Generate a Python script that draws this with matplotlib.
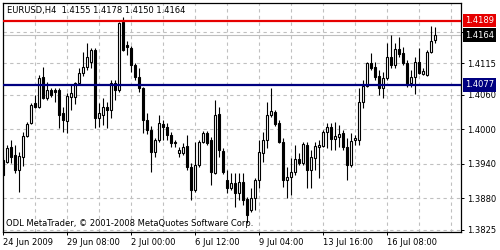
import matplotlib
matplotlib.use("Agg")
import matplotlib.pyplot as plt
from matplotlib.transforms import blended_transform_factory

# ---- data (EURUSD H4) ----
opens = [1.3946, 1.3943, 1.3969, 1.3955, 1.3929, 1.3952, 1.3988, 1.4011, 1.4046, 1.4039,
         1.4091, 1.4054, 1.4068, 1.4068, 1.4068, 1.4028, 1.4014, 1.4056, 1.4056, 1.4080,
         1.4098, 1.4108, 1.4117, 1.4138, 1.4020, 1.4025, 1.4039, 1.4033, 1.4080, 1.4068,
         1.4187, 1.4147, 1.4141, 1.4112, 1.4091, 1.4072, 1.4016, 1.3999, 1.3960, 1.3981,
         1.4009, 1.4004, 1.3990, 1.3978, 1.3959, 1.3959, 1.3971, 1.3934, 1.3894, 1.3938,
         1.3978, 1.3993, 1.3981, 1.3924, 1.4027, 1.3962, 1.3912, 1.3898, 1.3906, 1.3889,
         1.3908, 1.3878, 1.3859, 1.3880, 1.3912, 1.3959, 1.3981, 1.4025, 1.4030, 1.4011,
         1.3978, 1.3912, 1.3917, 1.3925, 1.3948, 1.3941, 1.3973, 1.3929, 1.3950, 1.3969,
         1.3971, 1.3995, 1.4004, 1.3983, 1.3986, 1.3993, 1.3969, 1.3938, 1.3981, 1.3981,
         1.4047, 1.4075, 1.4115, 1.4108, 1.4093, 1.4072, 1.4089, 1.4126, 1.4112, 1.4140,
         1.4133, 1.4115, 1.4080, 1.4091, 1.4117, 1.4096, 1.4094, 1.4134, 1.4155]
highs = [1.3951, 1.3972, 1.3981, 1.3972, 1.3960, 1.3995, 1.4013, 1.4046, 1.4060, 1.4094,
         1.4108, 1.4082, 1.4072, 1.4072, 1.4072, 1.4039, 1.4063, 1.4077, 1.4082, 1.4107,
         1.4134, 1.4150, 1.4141, 1.4141, 1.4046, 1.4054, 1.4047, 1.4086, 1.4086, 1.4187,
         1.4195, 1.4154, 1.4145, 1.4115, 1.4107, 1.4074, 1.4028, 1.4006, 1.3985, 1.4025,
         1.4016, 1.4011, 1.3995, 1.3981, 1.3969, 1.3976, 1.3990, 1.3941, 1.3978, 1.3981,
         1.3997, 1.3997, 1.3986, 1.4051, 1.4039, 1.3967, 1.3929, 1.3924, 1.3924, 1.3924,
         1.3924, 1.3882, 1.3898, 1.3915, 1.3981, 1.3995, 1.4047, 1.4072, 1.4033, 1.4016,
         1.3985, 1.3934, 1.3950, 1.3973, 1.3959, 1.3978, 1.3978, 1.3964, 1.3978, 1.3981,
         1.3999, 1.4011, 1.4011, 1.4013, 1.4007, 1.3999, 1.3985, 1.3993, 1.3990, 1.4072,
         1.4086, 1.4117, 1.4133, 1.4117, 1.4103, 1.4100, 1.4150, 1.4164, 1.4150, 1.4161,
         1.4143, 1.4121, 1.4103, 1.4126, 1.4141, 1.4107, 1.4138, 1.4180, 1.4178]
lows = [1.3918, 1.3941, 1.3941, 1.3924, 1.3890, 1.3936, 1.3986, 1.4009, 1.4037, 1.4037,
        1.4053, 1.4051, 1.4056, 1.4047, 1.4002, 1.3995, 1.3993, 1.4033, 1.4044, 1.4077,
        1.4093, 1.4103, 1.4107, 1.4002, 1.4004, 1.4007, 1.4002, 1.4020, 1.4051, 1.4065,
        1.4136, 1.4129, 1.4100, 1.4086, 1.4065, 1.3993, 1.3992, 1.3925, 1.3952, 1.3978,
        1.3981, 1.3981, 1.3969, 1.3969, 1.3952, 1.3955, 1.3929, 1.3877, 1.3891, 1.3934,
        1.3976, 1.3972, 1.3903, 1.3922, 1.3952, 1.3922, 1.3889, 1.3894, 1.3864, 1.3877,
        1.3868, 1.3837, 1.3856, 1.3859, 1.3898, 1.3943, 1.3967, 1.4021, 1.4006, 1.3976,
        1.3899, 1.3880, 1.3885, 1.3920, 1.3938, 1.3938, 1.3898, 1.3898, 1.3929, 1.3915,
        1.3969, 1.3967, 1.3964, 1.3964, 1.3969, 1.3964, 1.3912, 1.3934, 1.3972, 1.3972,
        1.4037, 1.4074, 1.4103, 1.4086, 1.4060, 1.4054, 1.4086, 1.4107, 1.4107, 1.4126,
        1.4112, 1.4074, 1.4074, 1.4061, 1.4096, 1.4094, 1.4093, 1.4133, 1.4150]
closes = [1.3920, 1.3967, 1.3952, 1.3929, 1.3953, 1.3988, 1.4009, 1.4042, 1.4039, 1.4089,
          1.4054, 1.4068, 1.4060, 1.4065, 1.4025, 1.4016, 1.4058, 1.4063, 1.4080, 1.4098,
          1.4108, 1.4126, 1.4138, 1.4020, 1.4028, 1.4039, 1.4033, 1.4080, 1.4068, 1.4185,
          1.4138, 1.4143, 1.4112, 1.4091, 1.4072, 1.4016, 1.3999, 1.3960, 1.3981, 1.4011,
          1.4004, 1.3990, 1.3976, 1.3976, 1.3964, 1.3969, 1.3934, 1.3894, 1.3938, 1.3978,
          1.3993, 1.3976, 1.3925, 1.4025, 1.3964, 1.3925, 1.3898, 1.3906, 1.3889, 1.3908,
          1.3877, 1.3851, 1.3880, 1.3912, 1.3960, 1.3981, 1.4025, 1.4032, 1.4009, 1.3978,
          1.3912, 1.3917, 1.3925, 1.3948, 1.3941, 1.3974, 1.3929, 1.3952, 1.3971, 1.3973,
          1.3995, 1.4004, 1.3983, 1.3988, 1.3992, 1.3969, 1.3938, 1.3979, 1.3985, 1.4047,
          1.4075, 1.4115, 1.4107, 1.4091, 1.4072, 1.4089, 1.4126, 1.4112, 1.4140, 1.4131,
          1.4115, 1.4077, 1.4091, 1.4117, 1.4098, 1.4101, 1.4134, 1.4154, 1.4164]

y_ticks = [1.4170, 1.4115, 1.4060, 1.4000, 1.3940, 1.3880, 1.3825]
y_tick_labels = ["", "1.4115", "1.4060", "1.4000", "1.3940", "1.3880", "1.3825"]
x_tick_bars = [0, 16, 32, 48, 64, 80, 96]
x_tick_labels = ["24 Jun 2009", "29 Jun 08:00", "2 Jul 00:00", "6 Jul 12:00",
                 "9 Jul 04:00", "13 Jul 16:00", "16 Jul 08:00"]
resistance = 1.4189
support = 1.4077
last_price = 1.4164
title = "EURUSD,H4  1.4155 1.4178 1.4150 1.4164"
footer = "ODL MetaTrader, \u00a9 2001-2008 MetaQuotes Software Corp."

# ---- figure ----
plt.rcParams["font.family"] = ["DejaVu Sans"]
fs = 6
fig = plt.figure(figsize=(5, 2.5), dpi=100)
fig.patch.set_facecolor("white")
ax = fig.add_axes([3 / 500, 18 / 250, 458 / 500, 229 / 250])
ax.set_facecolor("white")

n = len(opens)
xs = list(range(n))
ax.set_xlim(0, 114.5)
ax.set_ylim(1.38209, 1.42198)

# grid
grid_style = dict(color="#c0c0c0", lw=0.8, ls=(0, (3, 3)), zorder=0)
for gx in range(8, 115, 8):
    ax.axvline(gx, **grid_style)
for gy in y_ticks:
    ax.axhline(gy, **grid_style)

# bid line
ax.axhline(last_price, color="#c0c0c0", lw=0.8, zorder=1)

# candles
ax.vlines(xs, lows, highs, color="black", lw=0.8, zorder=2)
bottoms = [min(o, c) for o, c in zip(opens, closes)]
heights = [max(abs(c - o), 0.00003) for o, c in zip(opens, closes)]
faces = ["white" if c >= o else "black" for o, c in zip(opens, closes)]
ax.bar(xs, heights, bottom=bottoms, width=0.5, color=faces,
       edgecolor="black", linewidth=0.8, zorder=3)

# horizontal levels
ax.axhline(resistance, color="#e60000", lw=1.6, zorder=4)
ax.axhline(support, color="#000080", lw=1.6, zorder=4)

# axes styling
for s in ax.spines.values():
    s.set_color("black")
    s.set_linewidth(0.9)
ax.yaxis.tick_right()
ax.set_yticks(y_ticks)
ax.set_yticklabels(y_tick_labels, fontsize=fs)
ax.set_xticks(x_tick_bars)
ax.set_xticklabels(x_tick_labels, fontsize=fs, ha="left")
ax.tick_params(axis="y", direction="out", length=2.5, width=0.7, pad=2, colors="black")
ax.tick_params(axis="x", direction="out", length=2.5, width=0.7, pad=1.5, colors="black")
ax.tick_params(axis="y", left=False)

# price tags
tr = blended_transform_factory(ax.transAxes, ax.transData)
for price, col in [(resistance, "#e60000"), (last_price, "black"), (support, "#000080")]:
    ax.text(1.008, price, f"{price:.4f}", transform=tr, color="white", fontsize=fs,
            ha="left", va="center", clip_on=False, zorder=10,
            bbox=dict(boxstyle="square,pad=0.25", fc=col, ec="none"))

fig.text(7 / 500, 1 - 10 / 250, title, fontsize=fs, ha="left", va="center", color="black")
fig.text(6 / 500, 1 - 224 / 250, footer, fontsize=fs, ha="left", va="center", color="black")

fig.savefig("out.png", dpi=100)
